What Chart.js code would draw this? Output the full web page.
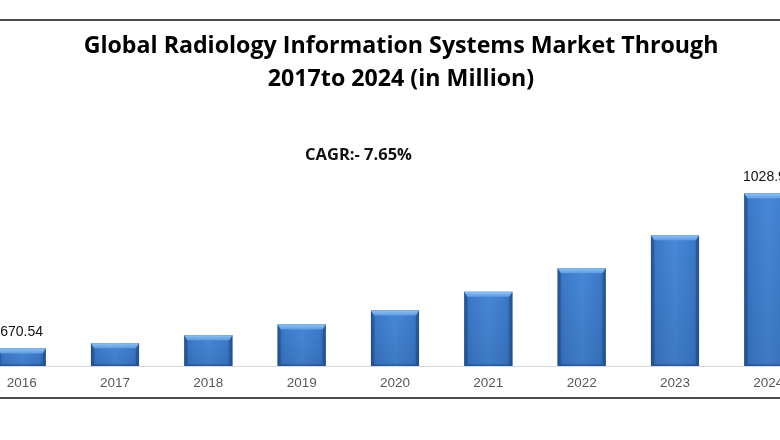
<!DOCTYPE html>
<html><head><meta charset="utf-8">
<script src="https://cdn.jsdelivr.net/npm/chart.js@4.4.1/dist/chart.umd.min.js"></script>
<style>
html,body{margin:0;padding:0;width:780px;height:440px;overflow:hidden;background:#fff;}
#wrap{position:absolute;left:-25px;top:0;width:840px;height:440px;}
</style></head><body>
<div id="wrap"><canvas id="c" width="840" height="440"></canvas></div>
<script>
// ---- data ----
const years = ['2016','2017','2018','2019','2020','2021','2022','2023','2024'];
const marketValues = [670.54, 682.8, 701.3, 726.0, 758.4, 801.4, 856.2, 932.5, 1028.96];
const valueLabelShown = [true, false, false, false, false, false, false, false, true];
const titleLines = ['Global Radiology Information Systems Market Through', '2017to 2024 (in Million)'];
const cagrText = 'CAGR:- 7.65%';

const OFFX = 25; // canvas is shifted left by this many px
const FONT = '"Liberation Sans", Arial, sans-serif';
const TFONT = '"Open Sans", "Liberation Sans", sans-serif';

const framePlugin = {
  id: 'frame',
  afterDraw(chart) {
    const ctx = chart.ctx;
    ctx.save();
    ctx.strokeStyle = '#111';
    ctx.lineWidth = 1.4;
    [20, 398].forEach(y => {
      ctx.beginPath(); ctx.moveTo(0, y); ctx.lineTo(chart.width, y); ctx.stroke();
    });
    ctx.fillStyle = '#000';
    ctx.textAlign = 'center';
    ctx.textBaseline = 'middle';
    ctx.font = 'bold 23.2px ' + TFONT;
    ctx.fillText(titleLines[0], 401 + OFFX, 46);
    ctx.fillText(titleLines[1], 401 + OFFX, 79);
    ctx.font = 'bold 16.5px ' + TFONT;
    ctx.fillStyle = '#111';
    ctx.fillText(cagrText, 358.5 + OFFX, 155);
    ctx.restore();
  }
};

const bevelPlugin = {
  id: 'bevel',
  afterDatasetsDraw(chart) {
    const ctx = chart.ctx;
    const area = chart.chartArea;
    const meta = chart.getDatasetMeta(0);
    ctx.save();
    meta.data.forEach((el, i) => {
      const w = el.width, l = el.x - w / 2, r = el.x + w / 2, t = el.y;
      const b = Math.min(el.base, area.bottom);
      const h = b - t;
      const g = ctx.createLinearGradient(l, 0, r, 0);
      g.addColorStop(0, '#2f63a8');
      g.addColorStop(0.12, '#3d7bca');
      g.addColorStop(0.5, '#4788d7');
      g.addColorStop(0.88, '#3d7bca');
      g.addColorStop(1, '#2f63a8');
      ctx.fillStyle = g;
      ctx.fillRect(l, t, w, h);
      const gv = ctx.createLinearGradient(0, t, 0, b);
      gv.addColorStop(0, 'rgba(0,20,60,0)');
      gv.addColorStop(1, 'rgba(0,20,60,0.12)');
      ctx.fillStyle = gv;
      ctx.fillRect(l, t, w, h);
      const bv = Math.min(5, h / 3), sv = 3;
      const gt = ctx.createLinearGradient(0, t, 0, t + bv);
      gt.addColorStop(0, '#92c1f2');
      gt.addColorStop(1, '#5e9be0');
      ctx.fillStyle = gt;
      ctx.beginPath();
      ctx.moveTo(l, t); ctx.lineTo(r, t); ctx.lineTo(r - sv, t + bv); ctx.lineTo(l + sv, t + bv); ctx.closePath();
      ctx.fill();
      ctx.fillStyle = 'rgba(20,50,100,0.3)';
      ctx.beginPath();
      ctx.moveTo(l, t); ctx.lineTo(l + sv, t + bv); ctx.lineTo(l + sv, b - 2); ctx.lineTo(l, b); ctx.closePath();
      ctx.fill();
      ctx.beginPath();
      ctx.moveTo(r, t); ctx.lineTo(r - sv, t + bv); ctx.lineTo(r - sv, b - 2); ctx.lineTo(r, b); ctx.closePath();
      ctx.fill();
      ctx.fillStyle = 'rgba(20,45,90,0.3)';
      ctx.beginPath();
      ctx.moveTo(l, b); ctx.lineTo(l + sv, b - 2); ctx.lineTo(r - sv, b - 2); ctx.lineTo(r, b); ctx.closePath();
      ctx.fill();
      if (valueLabelShown[i]) {
        ctx.fillStyle = '#111';
        ctx.font = '14px ' + FONT;
        ctx.textAlign = 'center';
        ctx.textBaseline = 'middle';
        ctx.fillText(marketValues[i].toFixed(2), el.x, t - 16.5);
      }
    });
    ctx.restore();
  }
};

new Chart(document.getElementById('c'), {
  type: 'bar',
  data: {
    labels: years,
    datasets: [{
      data: marketValues,
      backgroundColor: '#3d7bca',
      borderWidth: 0,
      categoryPercentage: 1,
      barPercentage: 0.515
    }]
  },
  options: {
    responsive: false,
    animation: false,
    layout: { padding: { top: 120, left: 0, right: 0, bottom: 0 } },
    plugins: { legend: { display: false }, tooltip: { enabled: false }, title: { display: false } },
    scales: {
      x: {
        grid: { display: false, drawTicks: false },
        border: { display: true, color: '#d9d9d9', width: 1 },
        ticks: { color: '#595959', font: { size: 13.5, family: FONT }, padding: 9 },
        afterFit(scale) { scale.height = 74; }
      },
      y: {
        display: false,
        min: 630,
        max: 1198.8
      }
    }
  },
  plugins: [bevelPlugin, framePlugin]
});
</script>
</body></html>
